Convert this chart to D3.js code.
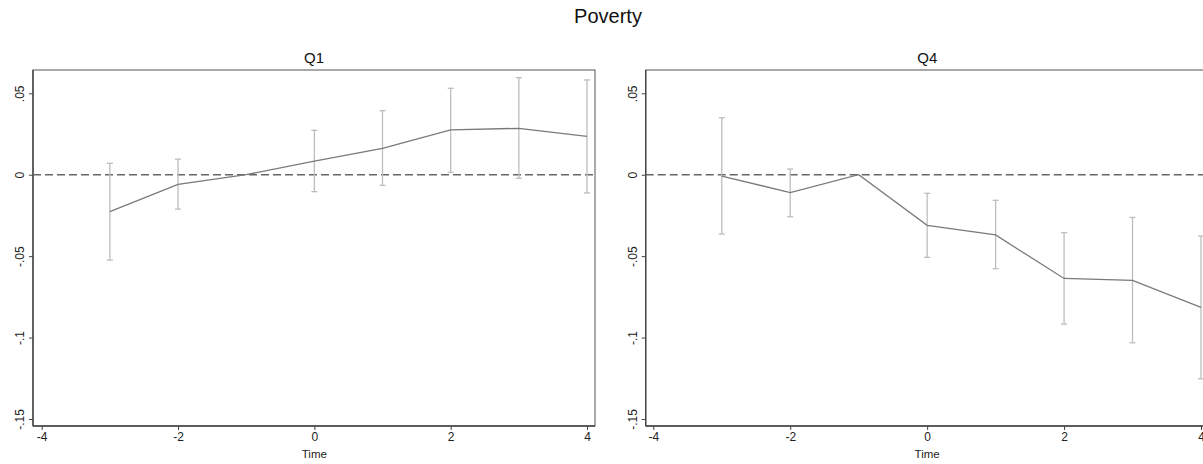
<!DOCTYPE html>
<html><head><meta charset="utf-8">
<script src="https://cdn.jsdelivr.net/npm/d3@7"></script>
<style>body{margin:0;background:#fff}svg{display:block;font-family:"Liberation Sans",Arial,sans-serif}</style>
</head><body><svg id="c" width="1203" height="464"></svg>
<script>
const times = [-3, -2, -1, 0, 1, 2, 3, 4];
const q1Est = [-0.0227, -0.0059, 0, 0.0084, 0.0162, 0.0275, 0.0285, 0.0236];
const q1Lo  = [-0.0524, -0.0211, null, -0.0104, -0.0065, 0.0015, -0.0022, -0.0112];
const q1Hi  = [0.0070, 0.0096, null, 0.0273, 0.0393, 0.0531, 0.0596, 0.0582];
const q4Est = [-0.0008, -0.0110, 0, -0.0311, -0.0370, -0.0637, -0.0649, -0.0815];
const q4Lo  = [-0.0364, -0.0258, null, -0.0507, -0.0577, -0.0917, -0.1032, -0.1253];
const q4Hi  = [0.0350, 0.0035, null, -0.0114, -0.0157, -0.0356, -0.0262, -0.0377];
const xTicks = [-4, -2, 0, 2, 4];
const xTickLabels = ["-4", "-2", "0", "2", "4"];
const yTicks = [0.05, 0, -0.05, -0.1, -0.15];
const yTickLabels = [".05", "0", "-.05", "-.1", "-.15"];
const mainTitle = "Poverty";
const xTitle = "Time";

const svg = d3.select("#c");
svg.append("text").attr("x", 608).attr("y", 23).attr("text-anchor", "middle")
  .attr("font-size", 20).attr("fill", "#111").text(mainTitle);

const panels = [
  {title: "Q1", est: q1Est, lo: q1Lo, hi: q1Hi, left: 33, right: 595, x0: 41.7, x1: 587},
  {title: "Q4", est: q4Est, lo: q4Lo, hi: q4Hi, left: 645.7, right: 1209, x0: 653.3, x1: 1201}
];
const plotTop = 70, plotBottom = 426;

panels.forEach(p => {
  const x = d3.scaleLinear().domain([-4, 4]).range([p.x0, p.x1]);
  const y = d3.scaleLinear().domain([-0.15, 0.05]).range([419, 93.3]);
  const g = svg.append("g");
  g.append("rect").attr("x", p.left).attr("y", plotTop).attr("width", p.right - p.left)
    .attr("height", plotBottom - plotTop).attr("fill", "none").attr("stroke", "#555").attr("stroke-width", 1);
  g.append("text").attr("x", (p.left + p.right) / 2).attr("y", 62.5).attr("text-anchor", "middle")
    .attr("font-size", 15).attr("fill", "#111").text(p.title);

  // y axis
  const ya = d3.axisLeft(y).tickValues(yTicks).tickSize(4).tickFormat((d, i) => yTickLabels[i]);
  const yg = g.append("g").attr("transform", `translate(${p.left},0)`).call(ya);
  yg.select(".domain").remove();
  yg.selectAll(".tick line").attr("stroke", "#444");
  yg.selectAll(".tick text").attr("font-size", 12).attr("fill", "#222")
    .attr("text-anchor", "middle").attr("x", 0).attr("y", 0).attr("dy", "0")
    .attr("transform", "translate(-9,0) rotate(-90)");
  g.append("line").attr("x1", p.left).attr("x2", p.left).attr("y1", plotTop).attr("y2", plotBottom)
    .attr("stroke", "#444").attr("stroke-width", 1.4);

  // x axis
  const xa = d3.axisBottom(x).tickValues(xTicks).tickSize(4).tickFormat((d, i) => xTickLabels[i]);
  const xg = g.append("g").attr("transform", `translate(0,${plotBottom})`).call(xa);
  xg.select(".domain").remove();
  xg.selectAll(".tick line").attr("stroke", "#444");
  xg.selectAll(".tick text").attr("font-size", 12).attr("fill", "#222").attr("y", 6);
  g.append("line").attr("x1", p.left).attr("x2", p.right).attr("y1", plotBottom).attr("y2", plotBottom)
    .attr("stroke", "#444").attr("stroke-width", 1.6);
  g.append("text").attr("x", x(0)).attr("y", 458).attr("text-anchor", "middle")
    .attr("font-size", 11.5).attr("fill", "#222").text(xTitle);

  // zero reference line
  g.append("line").attr("x1", p.left).attr("x2", p.right).attr("y1", y(0)).attr("y2", y(0))
    .attr("stroke", "#666").attr("stroke-width", 1.3).attr("stroke-dasharray", "8,4");

  // CIs
  const ci = times.map((t, i) => ({t, lo: p.lo[i], hi: p.hi[i]})).filter(d => d.lo !== null);
  const cg = g.append("g").attr("stroke", "#bdbdbd").attr("stroke-width", 1.3);
  cg.selectAll(".v").data(ci).join("line").attr("x1", d => x(d.t)).attr("x2", d => x(d.t))
    .attr("y1", d => y(d.lo)).attr("y2", d => y(d.hi));
  cg.selectAll(".ct").data(ci).join("line").attr("class", "ct").attr("x1", d => x(d.t) - 3).attr("x2", d => x(d.t) + 3)
    .attr("y1", d => y(d.hi)).attr("y2", d => y(d.hi));
  cg.selectAll(".cb").data(ci).join("line").attr("class", "cb").attr("x1", d => x(d.t) - 3).attr("x2", d => x(d.t) + 3)
    .attr("y1", d => y(d.lo)).attr("y2", d => y(d.lo));

  // estimate line
  const line = d3.line().x((d, i) => x(times[i])).y(d => y(d));
  g.append("path").datum(p.est).attr("d", line).attr("fill", "none")
    .attr("stroke", "#7a7a7a").attr("stroke-width", 1.3);
});
</script></body></html>
